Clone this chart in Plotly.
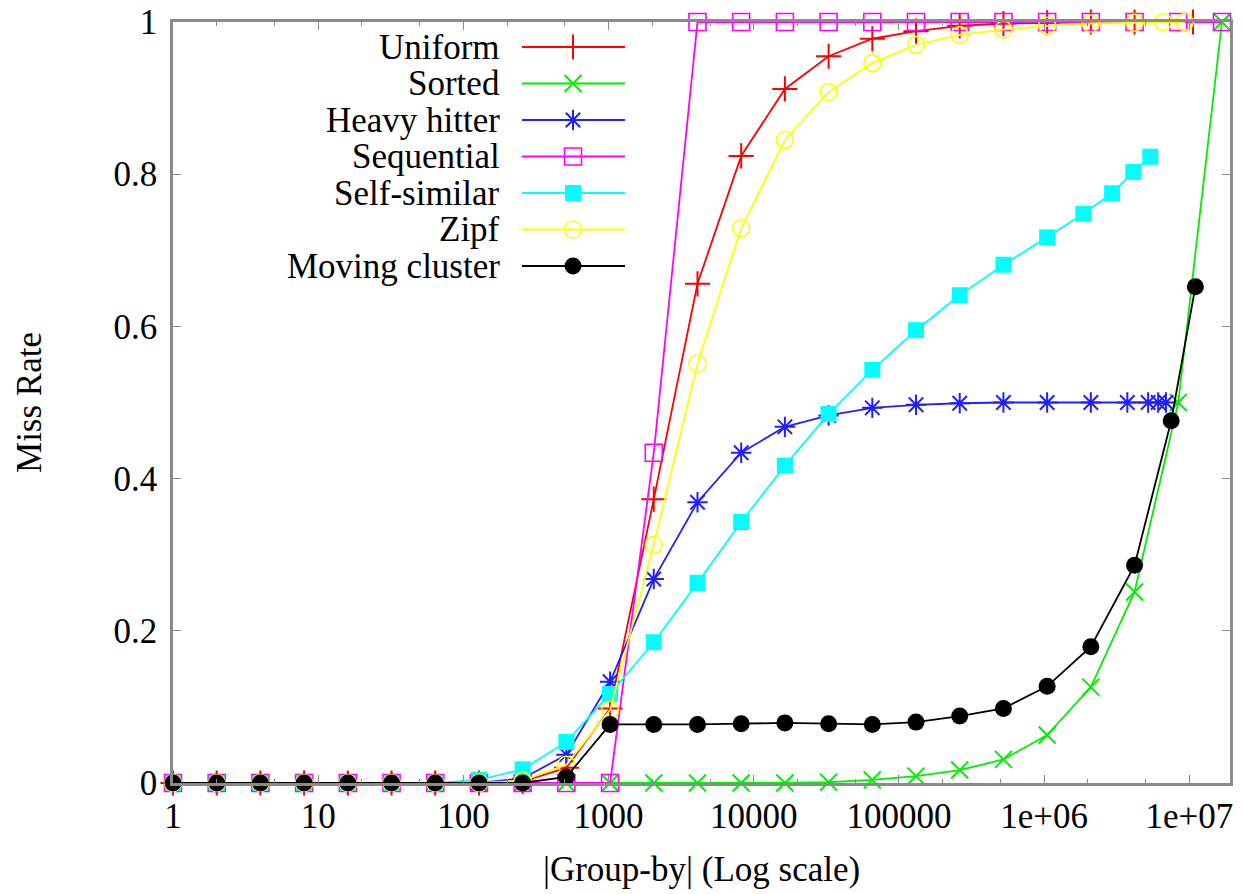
import plotly.graph_objects as go

# ---------------- data ----------------
pow2 = [1, 2, 4, 8, 16, 32, 64, 128, 256, 512, 1024, 2048, 4096, 8192, 16384,
        32768, 65536, 131072, 262144, 524288, 1048576, 2097152, 4194304,
        8388608, 16777216]

series_names = ["Uniform", "Sorted", "Heavy hitter", "Sequential",
                "Self-similar", "Zipf", "Moving cluster"]

uniform_x = pow2[:23] + [10600000]
uniform_y = [0, 0, 0, 0, 0, 0, 0, 0, 0.002, 0.02, 0.098, 0.373, 0.656, 0.824,
             0.912, 0.955, 0.978, 0.988, 0.995, 0.998, 0.999, 1.0, 1.0, 1.0]

sorted_x = pow2[:25]
sorted_y = [0, 0, 0, 0, 0, 0, 0, 0, 0, 0, 0, 0, 0, 0, 0, 0.001, 0.004, 0.009,
            0.017, 0.031, 0.063, 0.126, 0.251, 0.5, 1.0]

heavy_x = pow2[:22] + [3740000, 5200000, 6100000, 6900000]
heavy_y = [0, 0, 0, 0, 0, 0, 0, 0, 0.006, 0.037, 0.133, 0.268, 0.369, 0.434,
           0.468, 0.483, 0.493, 0.497, 0.499, 0.5, 0.5, 0.5, 0.5, 0.5, 0.5, 0.5]

seq_x = pow2[:25]
seq_y = [0, 0, 0, 0, 0, 0, 0, 0, 0, 0, 0, 0.434, 1.0, 1.0, 1.0, 1.0, 1.0, 1.0,
         1.0, 1.0, 1.0, 1.0, 1.0, 1.0, 1.0]

selfsim_x = pow2[:21] + [1860000, 2940000, 4110000, 5380000]
selfsim_y = [0, 0, 0, 0, 0, 0, 0, 0.004, 0.018, 0.054, 0.117, 0.185, 0.263,
             0.343, 0.417, 0.485, 0.543, 0.595, 0.641, 0.681, 0.717, 0.748,
             0.775, 0.803, 0.823]

zipf_x = pow2[:23] + [6600000, 9300000]
zipf_y = [0, 0, 0, 0, 0, 0, 0, 0, 0.003, 0.024, 0.096, 0.313, 0.551, 0.729,
          0.845, 0.908, 0.946, 0.970, 0.983, 0.990, 0.995, 0.998, 0.999, 1.0, 1.0]

moving_x = pow2[:23] + [7500000, 11000000]
moving_y = [0, 0, 0, 0, 0, 0, 0, 0, 0, 0.008, 0.077, 0.077, 0.077, 0.078,
            0.079, 0.078, 0.077, 0.080, 0.088, 0.098, 0.127, 0.179, 0.286,
            0.476, 0.652]

x_tick_vals = [1, 10, 100, 1000, 10000, 100000, 1000000, 10000000]
x_tick_text = ["1", "10", "100", "1000", "10000", "100000", "1e+06", "1e+07"]
y_tick_vals = [0, 0.2, 0.4, 0.6, 0.8, 1]
y_tick_text = ["0", "0.2", "0.4", "0.6", "0.8", "1"]

# ---------------- styles ----------------
styles = [
    dict(color="#ff0000", symbol="cross-thin-open", size=18, lw=2),
    dict(color="#00ee00", symbol="x-thin-open", size=17, lw=2),
    dict(color="#2020ff", symbol="asterisk-open", size=17, lw=2),
    dict(color="#ff00ff", symbol="square-open", size=17, lw=1.6),
    dict(color="#00ffff", symbol="square", size=16, lw=0),
    dict(color="#ffff00", symbol="circle-open", size=17, lw=1.6),
    dict(color="#000000", symbol="circle", size=17, lw=0),
]
xs = [uniform_x, sorted_x, heavy_x, seq_x, selfsim_x, zipf_x, moving_x]
ys = [uniform_y, sorted_y, heavy_y, seq_y, selfsim_y, zipf_y, moving_y]

FONT = "Liberation Serif"
FS = 35

# body margin is removed below, so the figure fills the window exactly
W, H = 1243, 894
L, R, T, B = 173, 13, 22, 111

fig = go.Figure()
for name, x, y, st in zip(series_names, xs, ys, styles):
    fig.add_trace(go.Scatter(
        x=x, y=y, name=name, mode="lines+markers",
        line=dict(color=st["color"], width=1.8),
        marker=dict(symbol=st["symbol"], size=st["size"], color=st["color"],
                    line=dict(color=st["color"], width=st["lw"])),
        cliponaxis=False, showlegend=False,
    ))

# ---------------- custom legend (gnuplot style: text, then sample) ----------
# legend coordinates in plot-area pixels (x from left edge, y from top edge)
leg_top = 25
leg_step = 36.5
for i, (name, st) in enumerate(zip(series_names, styles)):
    yy = leg_top + i * leg_step
    fig.add_trace(go.Scatter(
        x=[349, 452], y=[yy, yy], mode="lines", xaxis="x2", yaxis="y2",
        line=dict(color=st["color"], width=1.8), showlegend=False,
        hoverinfo="skip"))
    fig.add_trace(go.Scatter(
        x=[400], y=[yy], mode="markers", xaxis="x2", yaxis="y2",
        marker=dict(symbol=st["symbol"], size=st["size"], color=st["color"],
                    line=dict(color=st["color"], width=st["lw"])),
        showlegend=False, hoverinfo="skip", cliponaxis=False))
    fig.add_annotation(x=329, y=yy, xref="x2", yref="y2", text=name,
                       showarrow=False, xanchor="right", yanchor="middle",
                       font=dict(family=FONT, size=FS, color="black"))

axis_line = "#8a8a8a"
pw = W - L - R
ph = H - T - B
fig.update_layout(
    width=W, height=H,
    margin=dict(l=L, r=R, t=T, b=B, autoexpand=False),
    paper_bgcolor="white", plot_bgcolor="white",
    font=dict(family=FONT, size=FS, color="black"),
    xaxis=dict(
        type="log", range=[0, 7.28], tickvals=x_tick_vals,
        ticktext=x_tick_text, ticks="inside", ticklen=8, tickcolor=axis_line,
        showline=True, linecolor=axis_line, linewidth=2.5, mirror="ticks",
        showgrid=False, zeroline=False, automargin=False,
        ticklabeloverflow="allow",
        minor=dict(ticks="inside", ticklen=4, tickcolor=axis_line,
                   dtick="D2", showgrid=False),
        title=dict(text="|Group-by| (Log scale)", standoff=22,
                   font=dict(family=FONT, size=FS)),
        tickfont=dict(family=FONT, size=FS),
    ),
    yaxis=dict(
        range=[0, 1], tickvals=y_tick_vals, ticktext=y_tick_text,
        ticks="inside", ticklen=8, tickcolor=axis_line,
        showline=True, linecolor=axis_line, linewidth=2.5, mirror="ticks",
        showgrid=False, zeroline=False, automargin=False,
        ticklabeloverflow="allow", ticklabelstandoff=6,
        title=dict(text="Miss Rate", standoff=62,
                   font=dict(family=FONT, size=FS)),
        tickfont=dict(family=FONT, size=FS),
    ),
    xaxis2=dict(overlaying="x", range=[0, pw], visible=False,
                fixedrange=True),
    yaxis2=dict(overlaying="y", range=[ph, 0], visible=False,
                fixedrange=True),
)

fig.write_html(
    "out.html",
    config={"displayModeBar": False},
    post_script="document.body.style.margin='0';"
                "document.body.style.overflow='hidden';",
)
